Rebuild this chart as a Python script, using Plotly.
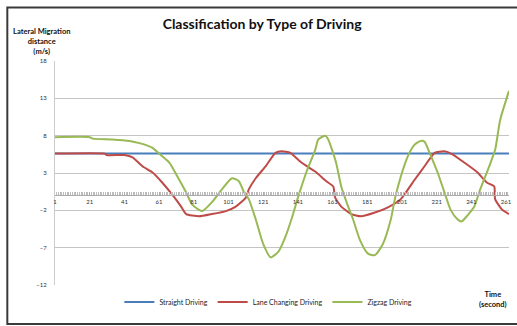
import plotly.graph_objects as go

# ---- data ----
straight_t = [1, 263]
straight_v = [5.6, 5.6]

lane_t = [1, 29.6, 30.8, 41, 45.7, 51.4, 57.1, 62.9, 68.6, 73.7, 76.6, 84, 91.5, 99.5,
          105.2, 111, 112.7, 116.7, 122.4, 128.1, 131.6, 136.7, 143, 151, 157.4, 161.4,
          162.5, 166, 171.7, 177.4, 185.4, 192.9, 200.3, 208.3, 214, 219.8, 225.5, 230.1,
          236.9, 244.4, 250.1, 254.2, 254.7, 258.7, 262.7]
lane_v = [5.6, 5.6, 5.4, 5.4, 5.1, 3.9, 3.1, 1.7, 0.1, -1.5, -2.5, -2.8, -2.5, -2.1,
          -1.5, -0.3, 0.8, 2.3, 3.9, 5.7, 5.9, 5.7, 4.4, 3.2, 1.9, 1.2,
          -0.3, -1.5, -2.5, -2.8, -2.3, -1.6, -0.5, 2.1, 3.9, 5.7, 5.9, 5.5,
          4.4, 3.1, 1.7, 1.2, -0.5, -1.9, -2.5]

zig_t = [1, 21, 22.8, 34, 44, 49.7, 57, 61, 66.9, 72.6, 76.6, 80, 85.8, 91.5, 97.2, 103,
         107, 109.8, 112.7, 116.7, 121, 125.3, 129.9, 133.9, 137.3, 141.3, 145.9, 151,
         152.8, 156.8, 158.5, 163, 166, 170, 172.8, 176.8, 181.4, 185.4, 190, 194.6,
         196.9, 200.3, 204.3, 208.3, 211.8, 214, 216.9, 221.5, 225.5, 229, 233, 235.3,
         238.7, 242.7, 246.1, 251.3, 254.7, 257.6, 262.7]
zig_v = [7.8, 7.8, 7.6, 7.5, 7.3, 7.0, 6.4, 5.6, 4.4, 2.1, 0.4, -1.2, -2.1, -0.9, 0.8, 2.3,
         1.9, 0.5, -0.5, -3.2, -6.5, -8.3, -7.5, -5.5, -3.2, -0.1, 3.1, 6.1,
         7.5, 8.0, 7.5, 4.4, 1.2, -1.5, -3.2, -6.0, -7.8, -8.0, -6.5, -3.2,
         -0.5, 2.5, 5.2, 6.8, 7.3, 7.2, 5.7, 3.1, 0.4, -1.9, -3.2, -3.5,
         -2.7, -1.5, 0.8, 3.9, 6.1, 10.1, 14.0]

y_ticks = [18, 13, 8, 3, -2, -7, -12]
x_label_ticks = list(range(1, 262, 20))

FONT = "Lato"

fig = go.Figure()
fig.add_trace(go.Scatter(x=straight_t, y=straight_v, mode="lines", name="Straight Driving",
                         line=dict(color="#4a7ebb", width=2)))
fig.add_trace(go.Scatter(x=lane_t, y=lane_v, mode="lines", name="Lane Changing Driving",
                         line=dict(color="#be4b48", width=2, shape="spline", smoothing=0.5)))
fig.add_trace(go.Scatter(x=zig_t, y=zig_v, mode="lines", name="Zigzag Driving",
                         line=dict(color="#98b954", width=2, shape="spline", smoothing=0.6)))

fig.update_layout(
    width=517, height=326,
    margin=dict(l=55, r=5, t=61, b=41),
    paper_bgcolor="white", plot_bgcolor="white",
    font=dict(family=FONT, color="#333"),
    title=dict(text="<b>Classification by Type of Driving</b>", x=0.507, xanchor="center",
               y=0.925, yanchor="middle", font=dict(size=14, color="#111", family=FONT)),
    showlegend=True,
    legend=dict(orientation="h", x=0.47, xanchor="center", y=(285 - 302) / 224, yanchor="middle",
                font=dict(size=7, color="#222"), itemwidth=30, tracegroupgap=0,
                bgcolor="rgba(0,0,0,0)"),
    xaxis=dict(range=[1, 262.7], tickmode="array", tickvals=x_label_ticks,
               anchor="free", position=0.4, showgrid=False, zeroline=False,
               showline=True, linecolor="#aaa", linewidth=1,
               ticks="inside", ticklen=3, tickcolor="#aaa",
               minor=dict(dtick=1, tick0=1, ticks="inside", ticklen=3, tickcolor="#bbb"),
               tickfont=dict(size=6, color="#333")),
    yaxis=dict(range=[-12, 18], tickmode="array", tickvals=y_ticks,
               showgrid=True, gridcolor="#c4c4c4", gridwidth=1, zeroline=False,
               showline=True, linecolor="#ccc", linewidth=1, ticks="",
               tickfont=dict(size=6, color="#333"), ticklabelstandoff=6),
)

fig.add_annotation(text="<b>Lateral Migration<br>distance<br>(m/s)</b>", xref="paper", yref="paper",
                   x=(41 - 55) / 457, y=(285 - 42) / 224, xanchor="center", yanchor="middle",
                   showarrow=False, font=dict(size=7.5, color="#111", family=FONT), align="center")
fig.add_annotation(text="<b>Time<br>(second)</b>", xref="paper", yref="paper",
                   x=(496 - 55) / 457, y=(285 - 299) / 224, xanchor="center", yanchor="middle",
                   showarrow=False, font=dict(size=7.5, color="#111", family=FONT), align="center")
fig.add_shape(type="rect", xref="paper", yref="paper",
              x0=(7 - 55) / 457, x1=(530 - 55) / 457,
              y0=(285 - 324) / 224, y1=(285 - 7.5) / 224,
              line=dict(color="#3a3a3a", width=2), layer="below")

fig.write_html("out.html", config={"displayModeBar": False},
               post_script="document.body.style.margin='0';document.body.style.overflow='hidden';")
